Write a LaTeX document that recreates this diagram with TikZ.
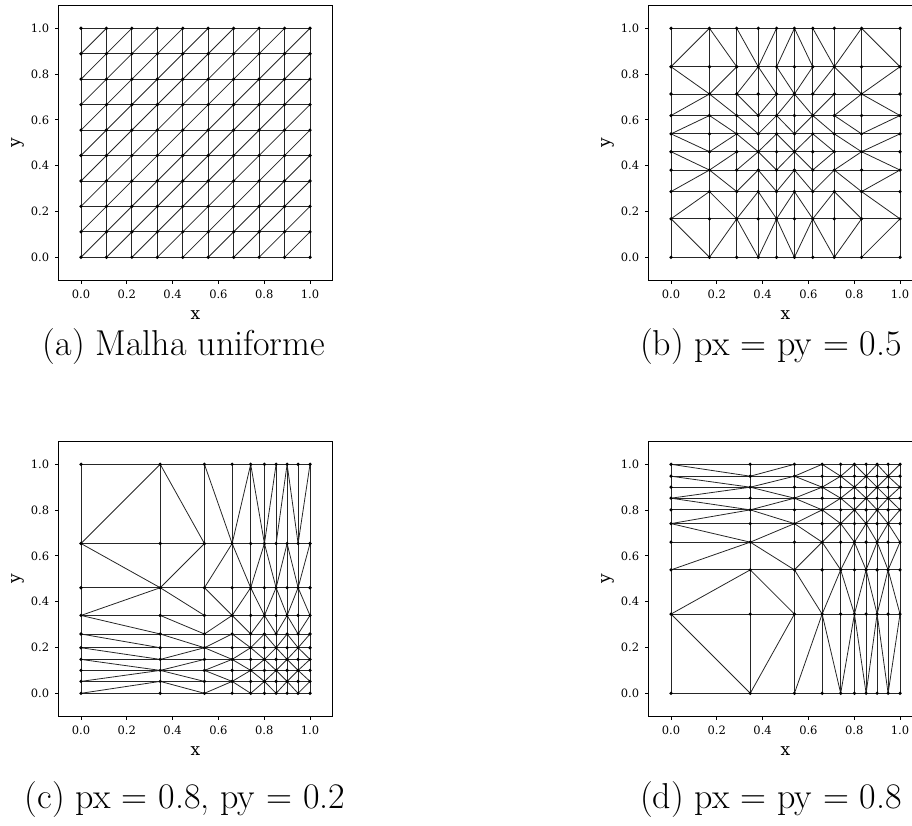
\documentclass[tikz,border=0pt]{standalone}
\usepackage{fontspec}
\usetikzlibrary{positioning}
\newfontfamily\plotfont{DejaVu Serif}
\def\gridB{0,0.168,0.287,0.381,0.461,0.539,0.619,0.713,0.832,1}
\def\gridR{0,0.346,0.539,0.660,0.741,0.801,0.852,0.900,0.948,1}
\def\gridL{0,0.052,0.100,0.148,0.199,0.259,0.340,0.461,0.654,1}
\begin{document}
\begin{tikzpicture}[x=1pt,y=1pt,
  edge/.style={black!85,line width=0.8pt},
  frame/.style={black,line width=0.9pt},
  ticklab/.style={font=\plotfont\fontsize{11.5}{12}\selectfont,inner sep=0pt},
  axlab/.style={font=\plotfont\fontsize{17}{18}\selectfont,inner sep=0pt},
  caption/.style={font=\fontsize{36}{40}\selectfont,inner sep=0pt}]
  \useasboundingbox (0,0) rectangle (912,825);
  \clip (0,0) rectangle (912,825);

  % Panel (a): uniform mesh
  \begin{scope}[shift={(81,567.7)},x=229pt,y=229pt]
    \foreach \i in {0,...,9}
      \foreach \j in {0,...,9}
        \coordinate (a-\i-\j) at (\i/9,\j/9);
    \foreach \k in {0,...,9} {
      \draw[edge] (a-0-\k) -- (a-9-\k);
      \draw[edge] (a-\k-0) -- (a-\k-9);
    }
    \foreach \k in {0,...,8} {
      \pgfmathtruncatemacro\m{9-\k}
      \draw[edge] (a-\k-0) -- (a-9-\m);
    }
    \foreach \k in {1,...,8} {
      \pgfmathtruncatemacro\m{9-\k}
      \draw[edge] (a-0-\k) -- (a-\m-9);
    }
    \foreach \i in {0,...,9}
      \foreach \j in {0,...,9}
        \fill (a-\i-\j) circle (1.8pt);
    \draw[frame] (-0.1,-0.1) rectangle (1.1,1.1);
    \foreach \t in {0.0,0.2,0.4,0.6,0.8,1.0} {
      \draw[frame] (\t,-0.1) -- ++(0,-3.5pt);
      \draw[frame] (-0.1,\t) -- ++(-3.5pt,0);
      \node[ticklab,below=9.8pt] at (\t,-0.1) {\t};
      \node[ticklab,left=8.8pt] at (-0.1,\t) {\t};
    }
    \node[axlab,below=29.8pt] (xa) at (0.5,-0.1) {x};
    \node[axlab,rotate=90] (ya) at (-0.274,0.5) {y};
  \end{scope}

  % Panel (b): px = py = 0.5
  \begin{scope}[shift={(671,567.7)},x=229pt,y=229pt]
    \foreach \xv [count=\i from 0] in \gridB
      \foreach \yv [count=\j from 0] in \gridB
        \coordinate (b-\i-\j) at (\xv,\yv);
    \foreach \k in {0,...,9} {
      \draw[edge] (b-0-\k) -- (b-9-\k);
      \draw[edge] (b-\k-0) -- (b-\k-9);
    }
    % diagonals, top row first (1 = /, 0 = \)
    \foreach \row [count=\r from 0] in {
      {1,0,0,1,1,0,0,1,0},
      {0,1,1,0,0,1,1,0,1},
      {1,0,0,1,1,0,1,1,0},
      {1,0,0,1,0,1,0,0,1},
      {0,1,0,1,0,1,0,0,1},
      {0,1,1,0,1,0,1,1,0},
      {1,0,1,0,1,0,1,0,1},
      {1,0,1,0,1,0,1,0,0},
      {0,1,0,1,0,1,0,1,1}} {
      \foreach \d [count=\i from 0] in \row {
        \pgfmathtruncatemacro\ii{\i+1}
        \pgfmathtruncatemacro\jj{8-\r}
        \pgfmathtruncatemacro\jt{9-\r}
        \ifnum\d=1
          \draw[edge] (b-\i-\jj) -- (b-\ii-\jt);
        \else
          \draw[edge] (b-\i-\jt) -- (b-\ii-\jj);
        \fi
      }
    }
    \foreach \i in {0,...,9}
      \foreach \j in {0,...,9}
        \fill (b-\i-\j) circle (1.8pt);
    \draw[frame] (-0.1,-0.1) rectangle (1.1,1.1);
    \foreach \t in {0.0,0.2,0.4,0.6,0.8,1.0} {
      \draw[frame] (\t,-0.1) -- ++(0,-3.5pt);
      \draw[frame] (-0.1,\t) -- ++(-3.5pt,0);
      \node[ticklab,below=9.8pt] at (\t,-0.1) {\t};
      \node[ticklab,left=8.8pt] at (-0.1,\t) {\t};
    }
    \node[axlab,below=29.8pt] (xb) at (0.5,-0.1) {x};
    \node[axlab,rotate=90] (yb) at (-0.274,0.5) {y};
  \end{scope}

  % Panel (c): px = 0.8, py = 0.2
  \begin{scope}[shift={(81,131.7)},x=229pt,y=229pt]
    \foreach \xv [count=\i from 0] in \gridR
      \foreach \yv [count=\j from 0] in \gridL
        \coordinate (c-\i-\j) at (\xv,\yv);
    \foreach \k in {0,...,9} {
      \draw[edge] (c-0-\k) -- (c-9-\k);
      \draw[edge] (c-\k-0) -- (c-\k-9);
    }
    \foreach \row [count=\r from 0] in {
      {1,0,0,1,0,1,1,0,1},
      {0,1,1,0,1,0,1,0,1},
      {1,0,0,1,0,1,0,1,0},
      {0,0,1,0,1,0,1,0,1},
      {0,0,1,0,1,0,1,0,1},
      {0,1,0,1,0,1,0,1,0},
      {0,1,1,0,1,0,1,0,1},
      {1,0,0,1,0,1,0,1,0},
      {1,0,1,0,1,0,1,0,1}} {
      \foreach \d [count=\i from 0] in \row {
        \pgfmathtruncatemacro\ii{\i+1}
        \pgfmathtruncatemacro\jj{8-\r}
        \pgfmathtruncatemacro\jt{9-\r}
        \ifnum\d=1
          \draw[edge] (c-\i-\jj) -- (c-\ii-\jt);
        \else
          \draw[edge] (c-\i-\jt) -- (c-\ii-\jj);
        \fi
      }
    }
    \foreach \i in {0,...,9}
      \foreach \j in {0,...,9}
        \fill (c-\i-\j) circle (1.8pt);
    \draw[frame] (-0.1,-0.1) rectangle (1.1,1.1);
    \foreach \t in {0.0,0.2,0.4,0.6,0.8,1.0} {
      \draw[frame] (\t,-0.1) -- ++(0,-3.5pt);
      \draw[frame] (-0.1,\t) -- ++(-3.5pt,0);
      \node[ticklab,below=9.8pt] at (\t,-0.1) {\t};
      \node[ticklab,left=8.8pt] at (-0.1,\t) {\t};
    }
    \node[axlab,below=29.8pt] (xc) at (0.5,-0.1) {x};
    \node[axlab,rotate=90] (yc) at (-0.274,0.5) {y};
  \end{scope}

  % Panel (d): px = py = 0.8
  \begin{scope}[shift={(671,131.7)},x=229pt,y=229pt]
    \foreach \xv [count=\i from 0] in \gridR
      \foreach \yv [count=\j from 0] in \gridR
        \coordinate (d-\i-\j) at (\xv,\yv);
    \foreach \k in {0,...,9} {
      \draw[edge] (d-0-\k) -- (d-9-\k);
      \draw[edge] (d-\k-0) -- (d-\k-9);
    }
    \foreach \row [count=\r from 0] in {
      {0,1,1,0,1,0,1,0,1},
      {0,1,0,1,0,1,0,1,0},
      {1,0,1,0,1,0,1,0,1},
      {0,1,0,1,0,1,0,1,0},
      {1,0,1,0,1,0,1,0,1},
      {0,1,0,1,0,1,0,1,0},
      {1,0,1,0,1,0,1,0,1},
      {1,0,0,1,0,1,0,1,0},
      {0,1,1,0,1,0,1,0,1}} {
      \foreach \d [count=\i from 0] in \row {
        \pgfmathtruncatemacro\ii{\i+1}
        \pgfmathtruncatemacro\jj{8-\r}
        \pgfmathtruncatemacro\jt{9-\r}
        \ifnum\d=1
          \draw[edge] (d-\i-\jj) -- (d-\ii-\jt);
        \else
          \draw[edge] (d-\i-\jt) -- (d-\ii-\jj);
        \fi
      }
    }
    \foreach \i in {0,...,9}
      \foreach \j in {0,...,9}
        \fill (d-\i-\j) circle (1.8pt);
    \draw[frame] (-0.1,-0.1) rectangle (1.1,1.1);
    \foreach \t in {0.0,0.2,0.4,0.6,0.8,1.0} {
      \draw[frame] (\t,-0.1) -- ++(0,-3.5pt);
      \draw[frame] (-0.1,\t) -- ++(-3.5pt,0);
      \node[ticklab,below=9.8pt] at (\t,-0.1) {\t};
      \node[ticklab,left=8.8pt] at (-0.1,\t) {\t};
    }
    \node[axlab,below=29.8pt] (xd) at (0.5,-0.1) {x};
    \node[axlab,rotate=90] (yd) at (-0.274,0.5) {y};
  \end{scope}

  % Captions
  \node[caption] (capa) at (184,478) {(a) Malha uniforme};
  \node[caption] (capb) at (771,478) {(b) px = py = 0.5};
  \node[caption] (capc) at (185,25) {(c) px = 0.8, py = 0.2};
  \node[caption] (capd) at (771,25) {(d) px = py = 0.8};
\end{tikzpicture}
\end{document}
